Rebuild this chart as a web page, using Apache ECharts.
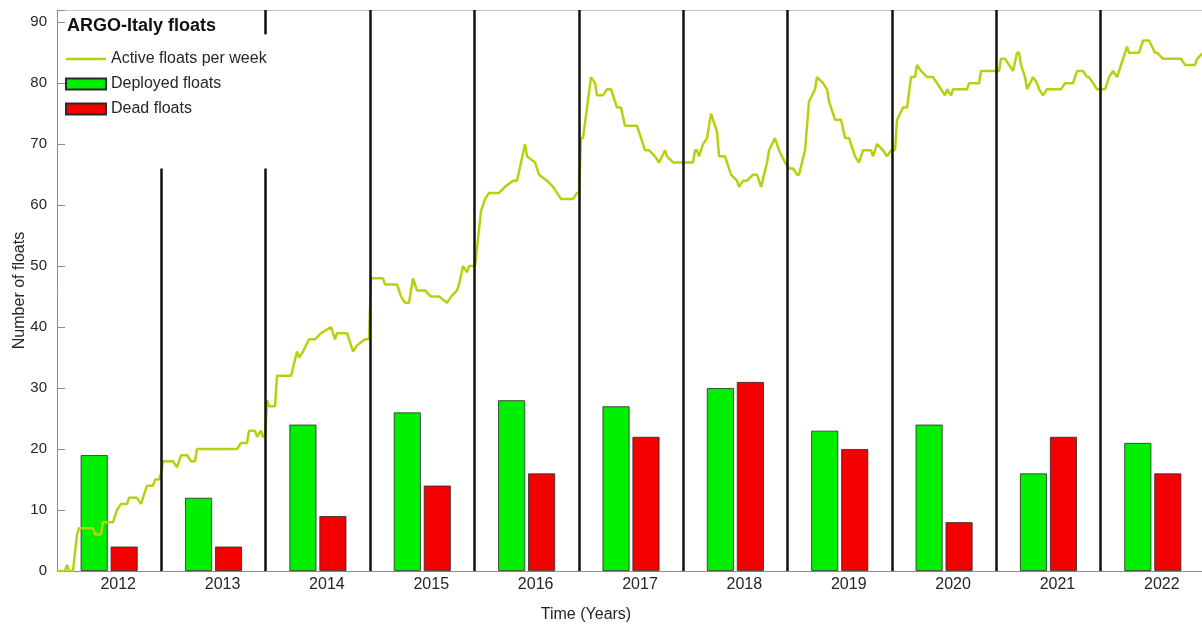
<!DOCTYPE html>
<html>
<head>
<meta charset="utf-8">
<title>ARGO-Italy floats</title>
<script src="https://cdn.jsdelivr.net/npm/echarts@6/dist/echarts.min.js"></script>
<style>
  html, body { margin: 0; padding: 0; background: #ffffff; }
  #chart { width: 1202px; height: 624px; }
</style>
</head>
<body>
<div id="chart"></div>
<script>
// Yearly deployments and losses
const years = ['2012', '2013', '2014', '2015', '2016', '2017', '2018', '2019', '2020', '2021', '2022'];
const deployedFloats = [19, 12, 24, 26, 28, 27, 30, 23, 24, 16, 21];
const deadFloats = [4, 4, 9, 14, 16, 22, 31, 20, 8, 22, 16];

// Weekly count of active floats (week index counted from 1 Jan 2012)
const activeWeeks = [
  0, 4, 5, 6, 8, 10, 11, 18, 19, 22, 23, 28, 30, 32, 35, 36, 40, 42, 45, 48, 49, 51, 52,
  53, 58, 60, 62, 65, 67, 69, 70, 90, 92, 95, 96, 99, 100, 102, 103, 104, 105,
  106, 109, 110, 117, 120, 121, 123, 126, 129, 132, 137, 139, 140, 145, 148, 150, 154, 156, 157,
  163, 164, 170, 172, 174, 176, 178, 180, 184, 187, 191, 195, 197, 200, 201, 203, 205, 206, 209,
  212, 214, 216, 221, 224, 228, 230, 234, 235, 239, 241, 245, 248, 250, 252, 258, 260, 261, 262,
  263, 267, 269, 270, 273, 275, 277, 280, 282, 284, 290, 294, 296, 299, 301, 304, 305, 308, 318,
  319, 320, 321, 323, 325, 327, 330, 331, 334, 335, 337, 340, 341, 343, 345, 348, 350, 352, 355, 356, 359, 361, 364, 366, 368,
  370, 371, 374, 376, 379, 380, 383, 385, 386, 389, 392, 394, 396, 399, 401, 403, 407, 408, 410, 413, 415, 417, 419,
  420, 423, 425, 427, 429, 430, 432, 435, 438, 440, 442, 444, 445, 447, 448, 455, 456, 461, 462, 471,
  472, 474, 476, 478, 480, 481, 482, 484, 485, 488, 490, 491, 493, 495, 502, 504, 508, 510, 513, 515, 516, 518, 520, 522, 524,
  526, 528, 530, 531, 533, 535, 536, 541, 543, 546, 547, 549, 550, 553, 562, 564, 569, 570, 573
];
const activeFloats = [
  0, 0, 1, 0, 0, 6, 7, 7, 6, 6, 8, 8, 10, 11, 11, 12, 12, 11, 14, 14, 15, 15, 16,
  18, 18, 17, 19, 19, 18, 18, 20, 20, 21, 21, 23, 23, 22, 23, 22, 22, 28,
  27, 27, 32, 32, 36, 35, 36, 38, 38, 39, 40, 38, 39, 39, 36, 37, 38, 38, 48,
  48, 47, 47, 45, 44, 44, 48, 46, 46, 45, 45, 44, 45, 46, 47, 50, 49, 50, 50,
  59, 61, 62, 62, 63, 64, 64, 70, 68, 67, 65, 64, 63, 62, 61, 61, 62, 62, 71,
  71, 81, 80, 78, 78, 79, 79, 76, 76, 73, 73, 69, 69, 68, 67, 69, 68, 67, 67,
  69, 69, 68, 70, 71, 75, 72, 68, 68, 67, 65, 64, 63, 64, 64, 65, 65, 63, 67, 69, 71, 69, 67, 66, 66,
  65, 65, 69, 77, 79, 81, 80, 79, 77, 74, 74, 71, 71, 68, 67, 69, 69, 68, 70, 69, 68, 69, 69,
  74, 76, 76, 81, 81, 83, 82, 81, 81, 80, 79, 78, 79, 78, 79, 79, 80, 80, 82, 82,
  84, 84, 83, 82, 85, 85, 83, 81, 79, 81, 80, 79, 78, 79, 79, 80, 80, 82, 82, 81, 81, 80, 79, 79, 79,
  81, 82, 81, 82, 84, 86, 85, 85, 87, 87, 87, 85, 85, 84, 84, 83, 83, 84, 85
];

// Year separators: height reached by each separator (one per year boundary)
const separatorTops = [66, 66, 92, 92, 92, 92, 92, 92, 92, 92];
// Extra short piece drawn at the top of the 2014 separator
const separatorTopPiece = { boundary: 2, from: 88, to: 92 };

const WEEKS_PER_YEAR = 52.18;
const FONT = '"Liberation Sans", Arial, Helvetica, sans-serif';
const LINE_COLOR = '#b8d010';

const activeSeries = activeWeeks.map((w, i) => [w, activeFloats[i]]);

const separatorLines = separatorTops.map((top, i) => {
  const x = (i + 1) * WEEKS_PER_YEAR;
  return [{ coord: [x, 0] }, { coord: [x, top] }];
});
{
  const x = separatorTopPiece.boundary * WEEKS_PER_YEAR;
  separatorLines.push([{ coord: [x, separatorTopPiece.from] }, { coord: [x, separatorTopPiece.to] }]);
}

const chart = echarts.init(document.getElementById('chart'), null, { renderer: 'canvas' });

chart.setOption({
  animation: false,
  backgroundColor: '#ffffff',
  textStyle: { fontFamily: FONT },
  title: {
    text: 'ARGO-Italy floats',
    left: 62,
    top: 12,
    textStyle: { fontFamily: FONT, fontSize: 18, fontWeight: 'bold', color: '#111111' }
  },
  legend: {
    orient: 'vertical',
    left: 60,
    top: 46,
    itemWidth: 40,
    itemHeight: 11,
    itemGap: 9,
    textStyle: { fontFamily: FONT, fontSize: 16, color: '#262626' },
    data: [
      { name: 'Active floats per week', icon: 'path://M0,0H40V2.6H0Z' },
      { name: 'Deployed floats', icon: 'rect' },
      { name: 'Dead floats', icon: 'rect' }
    ]
  },
  grid: { left: 57, right: -3, top: 10, bottom: 53, containLabel: false, outerBoundsMode: 'none' },
  xAxis: [
    {
      type: 'category',
      data: years,
      position: 'bottom',
      boundaryGap: true,
      axisLine: { show: true, lineStyle: { color: '#8c8c8c', width: 1 } },
      axisTick: { show: false },
      axisLabel: {
        fontFamily: FONT, fontSize: 16, color: '#262626', margin: 6,
        padding: [0, 0, 0, 18]
      },
      splitLine: { show: false },
      name: 'Time (Years)',
      nameLocation: 'middle',
      nameGap: 36,
      nameMoveOverlap: false,
      nameTextStyle: { fontFamily: FONT, fontSize: 16, color: '#262626', padding: [0, 90, 0, 0] }
    },
    {
      type: 'value',
      min: 0,
      max: 11 * WEEKS_PER_YEAR,
      position: 'top',
      axisLine: { show: true, onZero: false, lineStyle: { color: '#c4c4c4', width: 1 } },
      axisTick: { show: false },
      axisLabel: { show: false },
      splitLine: { show: false }
    }
  ],
  yAxis: {
    type: 'value',
    min: 0,
    max: 92,
    interval: 10,
    axisLine: { show: true, lineStyle: { color: '#8c8c8c', width: 1 } },
    axisTick: { show: true, inside: true, length: 8, lineStyle: { color: '#8c8c8c' } },
    axisLabel: {
      fontFamily: FONT, fontSize: 15, color: '#262626', margin: 10,
      formatter: v => (v % 10 === 0 ? String(v) : '')
    },
    splitLine: { show: false },
    name: 'Number of floats',
    nameLocation: 'middle',
    nameGap: 29,
    nameMoveOverlap: false,
    nameTextStyle: { fontFamily: FONT, fontSize: 16, color: '#262626' }
  },
  series: [
    {
      name: 'Active floats per week',
      type: 'line',
      xAxisIndex: 1,
      data: activeSeries,
      showSymbol: false,
      symbol: 'none',
      z: 4,
      lineStyle: { color: LINE_COLOR, width: 2.5 },
      itemStyle: { color: LINE_COLOR },
      markLine: {
        silent: true,
        symbol: ['none', 'none'],
        label: { show: false },
        lineStyle: { color: '#111111', width: 2.5, type: 'solid' },
        z: 5,
        data: separatorLines
      }
    },
    {
      name: 'Deployed floats',
      type: 'bar',
      xAxisIndex: 0,
      data: deployedFloats,
      barWidth: 27,
      barGap: '11%',
      z: 2,
      itemStyle: { color: '#00ee00', borderColor: '#2a2a2a', borderWidth: 0.8 }
    },
    {
      name: 'Dead floats',
      type: 'bar',
      xAxisIndex: 0,
      data: deadFloats,
      barWidth: 27,
      barGap: '11%',
      z: 2,
      itemStyle: { color: '#f50000', borderColor: '#2a2a2a', borderWidth: 0.8 }
    }
  ]
});
</script>
</body>
</html>
